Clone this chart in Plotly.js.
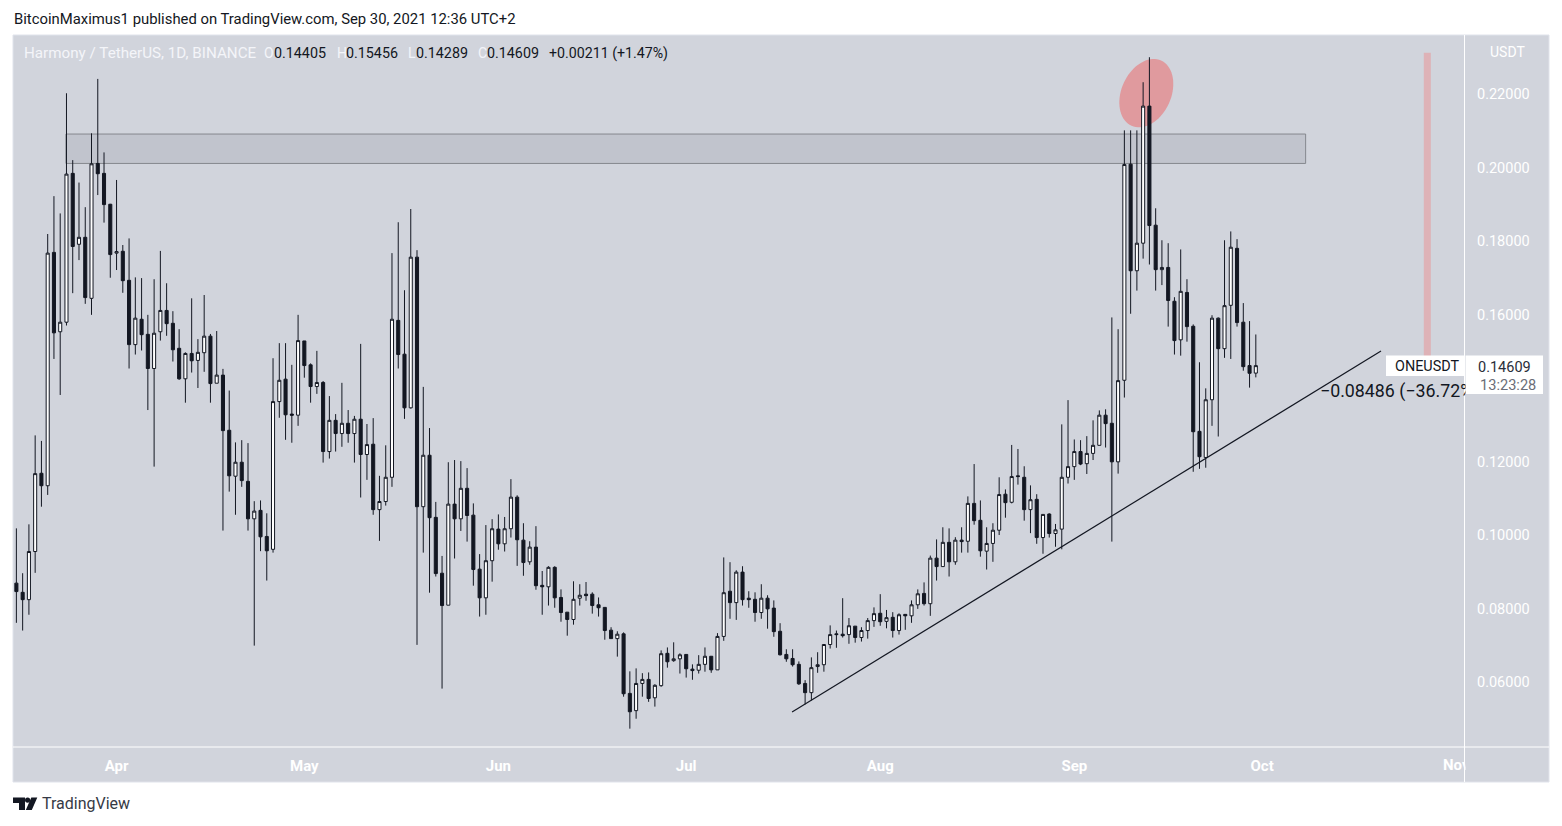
<!DOCTYPE html>
<html><head><meta charset="utf-8">
<script src="https://cdn.plot.ly/plotly-3.0.1.min.js"></script>
<style>html,body{margin:0;padding:0;background:#fff}#c{width:1562px;height:826px}</style></head>
<body><div id="c"></div>
<script>
const startDate = '2021-03-16';
const opens = [.0869,.0844,.0824,.0955,.1168,.1134,.1769,.1553,.1579,.1984,.1791,.1810,.1644,.2011,.1984,.1900,.1767,.1772,.1693,.1518,
.1587,.1546,.1453,.1553,.1611,.1576,.1508,.1425,.1494,.1475,.1496,.1541,.1413,.1435,.1285,.1160,.1198,.1146,.1044,.1067,
.0996,.0961,.1363,.1424,.1329,.1326,.1528,.1463,.1404,.1415,.1227,.1312,.1276,.1304,.1276,.1315,.1219,.1247,.1069,.1091,
.1157,.1584,.1492,.1346,.1756,.1077,.1217,.1048,.0896,.0809,.1084,.1044,.1127,.1054,.0907,.0829,.0930,.1016,.0976,.1017,
.1103,.0986,.0927,.0967,.0863,.0859,.0912,.0830,.0790,.0770,.0828,.0839,.0839,.0810,.0803,.0741,.0718,.0731,.0569,.0522,
.0596,.0607,.0557,.0590,.0678,.0658,.0663,.0675,.0635,.0632,.0648,.0670,.0633,.0724,.0847,.0816,.0899,.0828,.0825,.0789,
.0828,.0801,.0738,.0675,.0664,.0648,.0596,.0571,.0642,.0647,.0702,.0731,.0730,.0729,.0752,.0721,.0740,.0767,.0787,.0765,
.0776,.0740,.0784,.0780,.0810,.0841,.0813,.0937,.0914,.0980,.0927,.0986,.0983,.1086,.1040,.0956,.0977,.1013,.1111,.1089,
.1161,.1157,.1069,.1097,.0993,.1057,.1004,.1016,.1157,.1186,.1227,.1194,.1222,.1244,.1326,.1304,.1199,.1421,.2009,.1719,
.1794,.2167,.1843,.1722,.1728,.1636,.1531,.1660,.1568,.1282,.1211,.1368,.1590,.1507,.1625,.1780,.1579,.1461,.14405];
const highs = [.1018,.0896,.1029,.1271,.1256,.1819,.1922,.1875,.2202,.2020,.1959,.1892,.2093,.2241,.2041,.1901,.1966,.1789,.1807,.1701,
.1699,.1599,.1696,.1773,.1685,.1609,.1560,.1497,.1644,.1533,.1653,.1547,.1555,.1452,.1393,.1252,.1258,.1250,.1092,.1094,
.1059,.1481,.1522,.1522,.1463,.1599,.1528,.1467,.1501,.1419,.1378,.1329,.1414,.1340,.1324,.1520,.1302,.1318,.1161,.1244,
.1767,.1851,.1666,.1887,.1775,.1403,.1291,.1090,.0943,.1198,.1204,.1201,.1182,.1086,.0948,.1027,.1043,.1056,.1049,.1152,
.1108,.1032,.0983,.1024,.0902,.0915,.0915,.0852,.0790,.0874,.0866,.0872,.0844,.0830,.0803,.0749,.0738,.0735,.0629,.0637,
.0624,.0626,.0594,.0686,.0694,.0708,.0678,.0675,.0648,.0673,.0694,.0670,.0733,.0939,.0926,.0904,.0915,.0847,.0844,.0866,
.0836,.0822,.0760,.0689,.0689,.0656,.0605,.0667,.0681,.0702,.0754,.0740,.0828,.0774,.0752,.0749,.0774,.0803,.0839,.0796,
.0790,.0787,.0784,.0822,.0852,.0871,.0944,.0988,.1021,.1018,.0994,.1021,.1105,.1193,.1094,.1021,.1032,.1157,.1124,.1245,
.1234,.1187,.1135,.1111,.1056,.1059,.1030,.1301,.1367,.1260,.1258,.1269,.1312,.1339,.1342,.1592,.1560,.2101,.2101,.2101,
.2232,.2300,.1889,.1802,.1794,.1647,.1777,.1696,.1573,.1470,.1399,.1598,.1592,.1802,.1826,.1805,.1631,.1582,.15456];
const lows = [.0761,.0740,.0783,.0897,.1077,.1109,.1479,.1381,.1570,.1658,.1748,.1629,.1599,.1925,.1850,.1700,.1721,.1659,.1453,.1491,
.1502,.1340,.1186,.1529,.1542,.1472,.1422,.1360,.1442,.1400,.1444,.1360,.1413,.1012,.1118,.1055,.1131,.1012,.0699,.0956,
.0876,.0952,.1319,.1259,.1251,.1297,.1428,.1360,.1384,.1197,.1208,.1227,.1240,.1251,.1197,.1102,.1150,.1055,.0984,.1080,
.1131,.1453,.1316,.1344,.0701,.0952,.0843,.0887,.0582,.0809,.0936,.1011,.0982,.0862,.0778,.0783,.0873,.0960,.0955,.0993,
.0916,.0889,.0919,.0851,.0783,.0808,.0802,.0764,.0726,.0756,.0808,.0821,.0786,.0778,.0715,.0718,.0669,.0560,.0473,.0500,
.0560,.0546,.0533,.0587,.0639,.0655,.0623,.0612,.0606,.0623,.0628,.0625,.0633,.0712,.0772,.0769,.0808,.0802,.0764,.0772,
.0745,.0723,.0672,.0655,.0642,.0592,.0539,.0550,.0625,.0628,.0691,.0693,.0721,.0704,.0707,.0710,.0718,.0750,.0753,.0746,
.0721,.0729,.0742,.0761,.0799,.0808,.0780,.0876,.0914,.0887,.0919,.0952,.0952,.1028,.0941,.0906,.0927,.1000,.1047,.1086,
.1137,.1039,.1005,.0976,.0949,.0993,.0968,.0961,.1140,.1150,.1190,.1166,.1204,.1244,.1238,.0982,.1167,.1374,.1602,.1665,
.1752,.1736,.1665,.1680,.1567,.1491,.1488,.1526,.1172,.1180,.1183,.1297,.1268,.1482,.1479,.1567,.1447,.1401,.14289];
const closes = [.0846,.0824,.0955,.1167,.1134,.1767,.1550,.1579,.1982,.1785,.1810,.1646,.2010,.1983,.1899,.1763,.1771,.1692,.1518,.1590,
.1545,.1453,.1549,.1611,.1575,.1504,.1425,.1494,.1474,.1497,.1541,.1412,.1435,.1284,.1161,.1198,.1148,.1044,.1065,.0995,
.0957,.1363,.1421,.1327,.1326,.1529,.1461,.1404,.1415,.1227,.1312,.1276,.1304,.1276,.1315,.1219,.1246,.1069,.1091,.1157,
.1587,.1491,.1346,.1756,.1077,.1217,.1047,.0895,.0808,.1084,.1044,.1127,.1053,.0906,.0829,.0930,.1017,.0976,.1017,.1103,
.0987,.0925,.0967,.0862,.0859,.0912,.0829,.0789,.0770,.0825,.0836,.0835,.0808,.0802,.0740,.0718,.0730,.0568,.0519,.0596,
.0607,.0555,.0591,.0677,.0655,.0663,.0674,.0636,.0631,.0648,.0670,.0633,.0724,.0843,.0816,.0899,.0824,.0824,.0789,.0828,
.0799,.0737,.0674,.0663,.0647,.0595,.0571,.0639,.0647,.0702,.0729,.0729,.0726,.0753,.0721,.0740,.0767,.0786,.0764,.0775,
.0740,.0783,.0780,.0810,.0840,.0813,.0937,.0914,.0980,.0927,.0986,.0982,.1086,.1039,.0957,.0977,.1013,.1110,.1088,.1159,
.1159,.1069,.1096,.0993,.1056,.1004,.1014,.1157,.1186,.1227,.1193,.1222,.1244,.1326,.1303,.1199,.1420,.2008,.1719,.1794,
.2167,.1842,.1722,.1728,.1638,.1529,.1663,.1567,.1281,.1213,.1368,.1590,.1507,.1624,.1783,.1578,.1458,.1440,.14609];
const priceTicks = [0.06,0.08,0.10,0.12,0.16,0.18,0.20,0.22];
const monthTicks = ['2021-04-01','2021-05-01','2021-06-01','2021-07-01','2021-08-01','2021-09-01','2021-10-01'];
const monthLabels = ['Apr','May','Jun','Jul','Aug','Sep','Oct'];
const zone = {x0:'2021-03-23 22:00', x1:'2021-10-07 23:00', y0:0.2011, y1:0.2091};
const trend = {x0:'2021-07-17 22:00', x1:'2021-10-20 00:00', y0:0.05184, y1:0.15007};
const rangeBar = {x0:'2021-10-26 20:00', x1:'2021-10-27 23:00', y0:0.146, y1:0.2312};

const dates = opens.map((_, i) => new Date(Date.parse(startDate + 'T00:00:00Z') + i * 864e5).toISOString().slice(0, 10));

const L = 13, R = 1465, T = 35, B = 747;
const X = p => (p - L) / (R - L), Y = p => (B - p) / (B - T);
const FONT = 'Roboto, sans-serif';
const INK = '#131722', PANEL = '#d1d4dc';

function ann(px, py, text, color, size, extra) {
  return Object.assign({xref:'paper', yref:'paper', x:X(px), y:Y(py), text, showarrow:false,
    xanchor:'left', yanchor:'middle', align:'left', borderpad:0,
    font:{family:FONT, size:size||14, color}}, extra||{});
}
function rect(x0, y0, x1, y1, fill, line, layer) {
  return {type:'rect', xref:'paper', yref:'paper', x0:X(x0), x1:X(x1), y0:Y(y0), y1:Y(y1),
    fillcolor:fill, line:line||{width:0}, layer:layer||'below'};
}
function seg(x0, y0, x1, y1, color, w, layer) {
  return {type:'line', xref:'paper', yref:'paper', x0:X(x0), x1:X(x1), y0:Y(y0), y1:Y(y1),
    line:{color, width:w||1}, layer:layer||'below'};
}
function ellipsePath(cx, cy, a, b, deg) {
  const th = deg * Math.PI / 180; let d = '';
  for (let k = 0; k < 72; k++) {
    const t = k / 72 * 2 * Math.PI;
    const px = cx + a * Math.cos(t) * Math.sin(th) + b * Math.sin(t) * Math.cos(th);
    const py = cy - a * Math.cos(t) * Math.cos(th) + b * Math.sin(t) * Math.sin(th);
    d += (k ? 'L' : 'M') + X(px).toFixed(5) + ',' + Y(py).toFixed(5) + ' ';
  }
  return d + 'Z';
}
const logo = 'M' + X(13) + ',' + Y(797.5) + ' L' + X(25) + ',' + Y(797.5) + ' L' + X(25) + ',' + Y(810) + ' L' + X(19) + ',' + Y(810) + ' L' + X(19) + ',' + Y(803) + ' L' + X(13) + ',' + Y(803) + ' Z '
  + 'M' + X(37.3) + ',' + Y(797.5) + ' L' + X(31.8) + ',' + Y(810) + ' L' + X(25.8) + ',' + Y(810) + ' L' + X(31.3) + ',' + Y(797.5) + ' Z';

const shapes = [
  rect(13, 35, 1549, 782, PANEL, {color:'#e0e3eb', width:1}),
  seg(1464.5, 35, 1464.5, 782, '#ffffff'),
  seg(13, 747, 1549, 747, '#ffffff'),
  {type:'rect', xref:'x', yref:'y', x0:zone.x0, x1:zone.x1, y0:zone.y0, y1:zone.y1,
   fillcolor:'#c1c4cd', line:{color:'#85888e', width:1}, layer:'below'},
  {type:'path', xref:'paper', yref:'paper', path:ellipsePath(1146.3, 93.2, 35.8, 24.8, 24.4),
   fillcolor:'#e09a9e', line:{width:0}, layer:'below'},
  {type:'rect', xref:'x', yref:'y', x0:rangeBar.x0, x1:rangeBar.x1, y0:rangeBar.y0, y1:rangeBar.y1,
   fillcolor:'#deb2b7', line:{width:0}, layer:'below'},
  {type:'line', xref:'x', yref:'y', x0:trend.x0, x1:trend.x1, y0:trend.y0, y1:trend.y1,
   line:{color:INK, width:1.2}, layer:'above'},
  rect(1386, 355.5, 1464, 376, '#ffffff', null, 'above'),
  rect(1465.5, 355.5, 1543, 394, '#ffffff', null, 'above'),
  {type:'path', xref:'paper', yref:'paper', path:logo, fillcolor:INK, line:{width:0}, layer:'above'},
  {type:'circle', xref:'paper', yref:'paper', x0:X(25), x1:X(30.2), y0:Y(797.5), y1:Y(802.7), fillcolor:INK, line:{width:0}, layer:'above'}
];

const DIM = '#f4f5f9';
const annotations = [
  ann(13, 19, 'BitcoinMaximus1 published on TradingView.com, Sep 30, 2021 12:36 UTC+2', INK, 14.85),
  ann(23, 53.5, 'Harmony / TetherUS, 1D, BINANCE', DIM, 15.2),
  ann(263, 53.5, 'O', DIM, 14), ann(273, 53.5, '0.14405', INK, 14.3),
  ann(336, 53.5, 'H', DIM, 14), ann(345, 53.5, '0.15456', INK, 14.3),
  ann(407, 53.5, 'L', DIM, 14), ann(415, 53.5, '0.14289', INK, 14.3),
  ann(477, 53.5, 'C', DIM, 14), ann(486, 53.5, '0.14609', INK, 14.3),
  ann(548, 53.5, '+0.00211 (+1.47%)', INK, 14.2),
  ann(1507, 52, 'USDT', '#ffffff', 14, {xanchor:'center'}),
  ann(1442, 765, '<b>Nov</b>', '#ffffff', 15, {width:22.5}),
  ann(1319, 390.5, '−0.08486 (−36.72%)', INK, 17.8, {width:145.5}),
  ann(1394, 366, 'ONEUSDT', INK, 14.4),
  ann(1477, 367, '0.14609', '#2a2e39', 14.5),
  ann(1479, 385, '13:23:28', '#6a6d78', 14.6),
  ann(41, 804, 'TradingView', '#363a45', 16)
];

const trace = {
  type:'candlestick', x:dates, open:opens, high:highs, low:lows, close:closes,
  width:0.62*864e5, whiskerwidth:0, hoverinfo:'skip', showlegend:false,
  increasing:{line:{color:INK, width:1}, fillcolor:'#ffffff'},
  decreasing:{line:{color:INK, width:1}, fillcolor:INK}
};

const layout = {
  width:1562, height:826, paper_bgcolor:'#ffffff', plot_bgcolor:'rgba(0,0,0,0)',
  margin:{l:L, r:1562-R, t:T, b:826-B, pad:0}, showlegend:false, dragmode:false,
  xaxis:{type:'date', range:['2021-03-15 11:00','2021-11-02 10:00'], rangeslider:{visible:false},
    tickmode:'array', tickvals:monthTicks, ticktext:monthLabels.map(s => '<b>' + s + '</b>'), ticks:'', showgrid:false, zeroline:false, showline:false,
    tickfont:{family:FONT, size:15, color:'#ffffff'}, ticklabelstandoff:8},
  yaxis:{side:'right', range:[0.04231,0.23605], tickmode:'array', tickvals:priceTicks, ticktext:priceTicks.map(v => v.toFixed(5)),
    ticks:'', showgrid:false, zeroline:false, showline:false, ticklabelstandoff:11,
    tickfont:{family:FONT, size:14.5, color:'#ffffff'}},
  shapes, annotations
};
Plotly.newPlot('c', [trace], layout, {staticPlot:true, displayModeBar:false});
</script></body></html>
